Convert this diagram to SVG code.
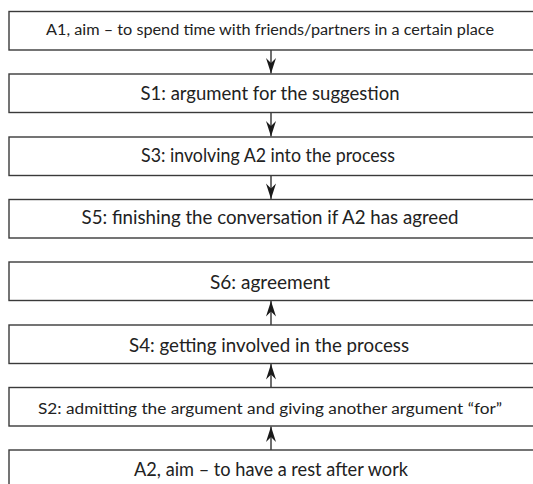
<svg xmlns="http://www.w3.org/2000/svg" width="533" height="484" viewBox="0 0 533 484">
<style>
.box{fill:#fff;stroke:#3a3a3a;stroke-width:1.4}
.t{font-family:Lato,"Open Sans","Liberation Sans",sans-serif;fill:#222;text-anchor:middle}
.big{font-size:18.5px}
.small{font-size:14.5px}
.conn{stroke:#222;stroke-width:1.3;fill:none}
</style>
<defs>
<marker id="ah" markerUnits="userSpaceOnUse" markerWidth="18" markerHeight="12" viewBox="-17 -6 18 12" refX="0" refY="0" orient="auto">
<path d="M0,0 L-15.5,-5 L-10.5,0 L-15.5,5 Z" fill="#1a1a1a"/>
</marker>
</defs>
<rect width="533" height="484" fill="#fff"/>
<g id="connectors">
<line class="conn" x1="271" y1="50" x2="271" y2="73.5" marker-end="url(#ah)"/>
<line class="conn" x1="271" y1="112.5" x2="271" y2="136.5" marker-end="url(#ah)"/>
<line class="conn" x1="271" y1="175.5" x2="271" y2="199" marker-end="url(#ah)"/>
<line class="conn" x1="271" y1="325" x2="271" y2="301" marker-end="url(#ah)"/>
<line class="conn" x1="271" y1="387.5" x2="271" y2="364" marker-end="url(#ah)"/>
<line class="conn" x1="271" y1="450" x2="271" y2="426.5" marker-end="url(#ah)"/>
</g>
<g id="A1"><rect class="box" x="9" y="11.5" width="535" height="38.5"/><text class="t small" x="270" y="34.5" textLength="448" lengthAdjust="spacingAndGlyphs">A1, aim – to spend time with friends/partners in a certain place</text></g>
<g id="S1"><rect class="box" x="9" y="74" width="535" height="38.5"/><text class="t big" x="270" y="99.5" textLength="259" lengthAdjust="spacingAndGlyphs">S1: argument for the suggestion</text></g>
<g id="S3"><rect class="box" x="9" y="137" width="535" height="38.5"/><text class="t big" x="268" y="161.7" textLength="254" lengthAdjust="spacingAndGlyphs">S3: involving A2 into the process</text></g>
<g id="S5"><rect class="box" x="9" y="199.5" width="535" height="38.5"/><text class="t big" x="270" y="224" textLength="377" lengthAdjust="spacingAndGlyphs">S5: finishing the conversation if A2 has agreed</text></g>
<g id="S6"><rect class="box" x="9" y="262" width="535" height="38.5"/><text class="t big" x="270" y="289" textLength="120" lengthAdjust="spacingAndGlyphs">S6: agreement</text></g>
<g id="S4"><rect class="box" x="9" y="325" width="535" height="38.5"/><text class="t big" x="269" y="351.7" textLength="280" lengthAdjust="spacingAndGlyphs">S4: getting involved in the process</text></g>
<g id="S2"><rect class="box" x="9" y="387.5" width="535" height="38.5"/><text class="t small" x="270" y="414.3" textLength="464" lengthAdjust="spacingAndGlyphs">S2: admitting the argument and giving another argument “for”</text></g>
<g id="A2"><rect class="box" x="9" y="450" width="535" height="42"/><text class="t big" x="271" y="476" textLength="274" lengthAdjust="spacingAndGlyphs">A2, aim – to have a rest after work</text></g>
</svg>
